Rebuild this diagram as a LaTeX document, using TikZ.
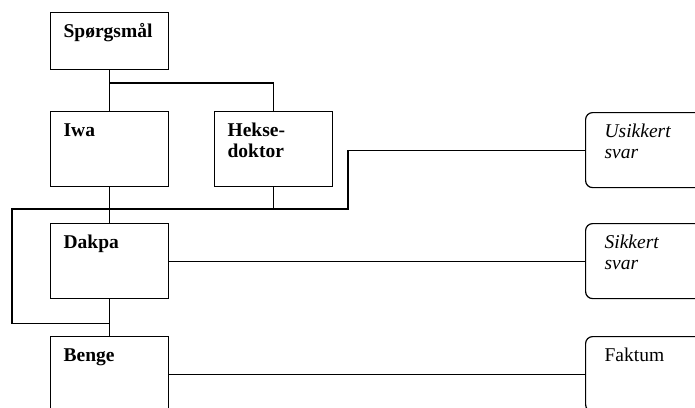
\documentclass[tikz,border=0pt]{standalone}
\usepackage{fontspec}
\setmainfont{Liberation Serif}
\usetikzlibrary{calc}

\tikzset{
  boks/.style={draw, line width=1.2pt, anchor=north west, inner xsep=13pt, inner ysep=0pt,
    minimum width=118pt, minimum height=75pt, font=\fontsize{19.5}{21}\selectfont},
  svarboks/.style={boks, rounded corners=7pt, minimum width=130pt},
  linje/.style={line width=1.2pt}
}
\newcommand{\bokstekst}[2][75pt]{\parbox[t][#1][t]{92pt}{\rule{0pt}{25pt}#2}}

\begin{document}
\begin{tikzpicture}[x=1pt, y=-1pt]
    \clip (0,0) rectangle (695,407);

    \node[boks, minimum height=57pt] (sp) at (50,12) {\bokstekst[57pt]{\bfseries Spørgsmål}};
    \node[boks] (iwa) at (50,111)  {\bokstekst{\bfseries Iwa}};
    \node[boks] (hd)  at (214,111) {\bokstekst{\bfseries Hekse-\\doktor}};
    \node[boks] (dak) at (50,223)  {\bokstekst{\bfseries Dakpa}};
    \node[boks] (ben) at (50,336)  {\bokstekst{\bfseries Benge}};

    \node[svarboks] (usv) at (585,112) {\bokstekst{\itshape Usikkert\\svar}};
    \node[svarboks] (ssv) at (585,223) {\bokstekst{\itshape Sikkert\\svar}};
    \node[svarboks] (fak) at (585,336) {\bokstekst{Faktum}};

    \coordinate (gren) at (110,83);
    \coordinate (knekk) at (348,209);
    \coordinate (venstre) at (12,209);

    % spørsmål til iwa og heksedoktor
    \draw[linje] (sp.south) -- (iwa.north);
    \draw[linje] (gren) -| (hd.north);

    % videre ned
    \draw[linje] (iwa.south) -- (dak.north);
    \draw[linje] (dak.south) -- (ben.north);
    \draw[linje] (hd.south) |- (knekk) |- (usv.west);
    \draw[linje] (knekk) -- (venstre) |- ($(dak.south)!0.66!(ben.north)$);

    % svar
    \draw[linje] (dak.east) -- (ssv.west);
    \draw[linje] (ben.east) -- (fak.west);
\end{tikzpicture}
\end{document}
